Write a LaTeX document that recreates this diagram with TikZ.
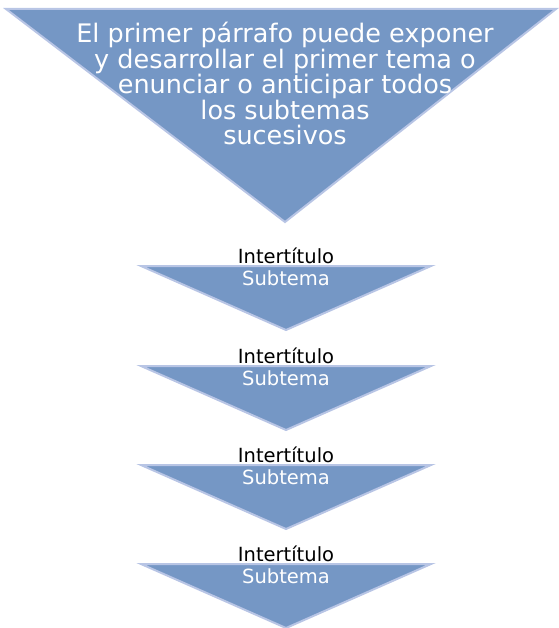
\documentclass[tikz,border=0pt]{standalone}
\usepackage{fontspec}
\setmainfont{DejaVu Sans}
\definecolor{trifill}{RGB}{117,151,197}
\definecolor{triedge}{RGB}{184,197,229}
\begin{document}
\begin{tikzpicture}[x=1pt,y=-1pt,
  tri/.style={fill=trifill,draw=triedge,line width=2pt,line join=miter},
  bigtext/.style={text=white,align=center,inner sep=0pt,font=\fontsize{25.5}{25.5}\selectfont},
  headtext/.style={text=black,inner sep=0pt,anchor=base,font=\fontsize{19.5}{22}\selectfont},
  subtext/.style={text=white,inner sep=0pt,anchor=base,font=\fontsize{19.5}{22}\selectfont}]
\useasboundingbox (0,0) rectangle (558,628);
% big triangle
\draw[tri] (6,9) -- (556,9) -- (285,222) -- cycle;
\node[bigtext,anchor=north] (main) at (285,22) {El primer párrafo puede exponer\\y desarrollar el primer tema o\\enunciar o anticipar todos\\los subtemas\\sucesivos};
% small triangles
\foreach \i/\t in {1/266,2/366,3/465,4/564}{
  \draw[tri] (141,\t) -- (431,\t) -- (286,\t+64) -- cycle;
  \node[headtext] (h\i) at (286,\t-3) {Intertítulo};
  \node[subtext] (s\i) at (286,\t+19) {Subtema};
}
\end{tikzpicture}
\end{document}
